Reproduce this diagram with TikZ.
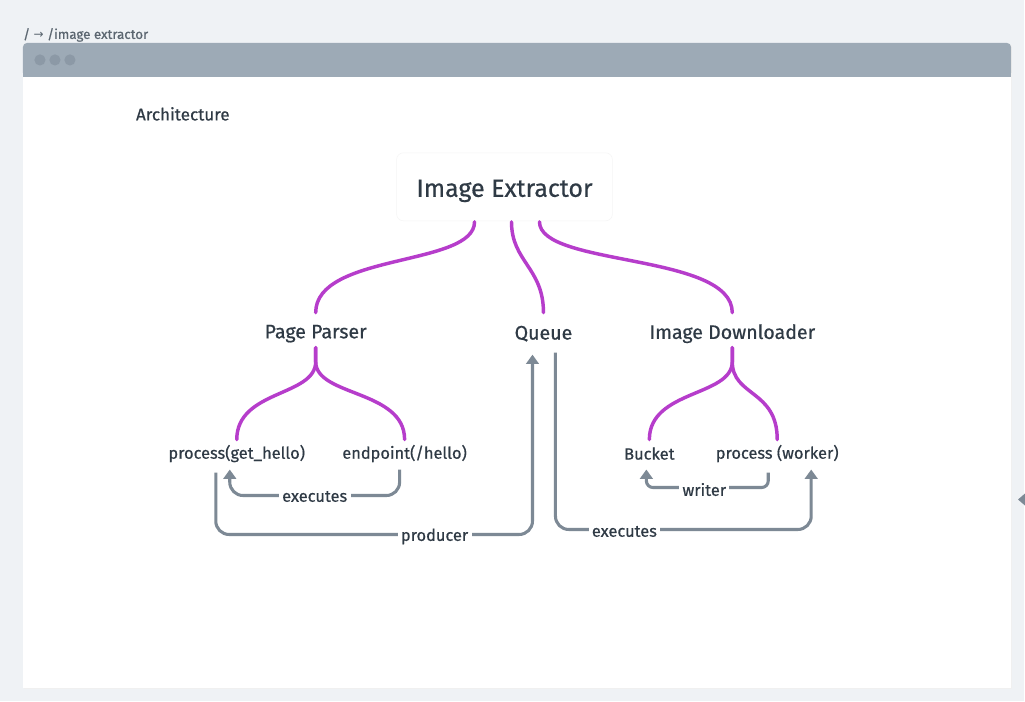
\documentclass[tikz,border=0pt]{standalone}
\usepackage{fontspec}
\setmainfont{Fira Sans}[FakeBold=0.6]
\newfontfamily\symfont{DejaVu Sans}
\usepackage{xcolor}
\usepackage{tikz}
\usetikzlibrary{arrows.meta,calc}

\definecolor{pagebg}{HTML}{EFF2F5}
\definecolor{barcol}{HTML}{9DAAB6}
\definecolor{dotcol}{HTML}{8C99A6}
\definecolor{mindpurple}{HTML}{B63DCB}
\definecolor{flowgray}{HTML}{7D8995}
\definecolor{darktext}{HTML}{2F3A45}
\definecolor{crumbtext}{HTML}{5B6670}

\begin{document}
\begin{tikzpicture}[x=0.75pt,y=-0.75pt,
    branch/.style={line width=2.6pt,color=mindpurple,line cap=round},
    flow/.style={line width=2.3pt,color=flowgray,rounded corners=10pt},
    flowarrow/.style={flow,-{Triangle[width=9.5pt,length=7pt]}},
    rootbox/.style={draw=black!4,fill=white,rounded corners=5pt,minimum width=162pt,minimum height=51pt,
        text height=19pt,text depth=4pt,font=\fontsize{18.7}{23}\selectfont,text=darktext},
    lvltwo/.style={inner sep=0pt,font=\fontsize{14.7}{18}\selectfont,text=darktext},
    lvlthree/.style={inner sep=0pt,font=\fontsize{12.3}{15}\selectfont,text=darktext},
    flowtag/.style={fill=white,inner xsep=2.5pt,inner ysep=1pt,font=\fontsize{12.3}{15}\selectfont,text=darktext}]

    % page and window
    \fill[pagebg] (0,0) rectangle (1025,702);
    \fill[black!6] (24,45) rectangle (1013,690);
    \fill[white] (23,77) rectangle (1012,689);
    \fill[barcol,rounded corners=3pt] (23,43) rectangle (1012,77);
    \fill[barcol] (23,60) rectangle (1012,77);
    \foreach \dx in {0,15,30}
        \fill[dotcol] (40+\dx,60) circle (4.2pt);
    \fill[flowgray] (1019,500) -- (1026,494) -- (1026,506) -- cycle;

    % texts
    \node[anchor=west,inner sep=0pt,font=\fontsize{10}{12}\selectfont,text=crumbtext] (crumb) at (23,35)
        {/ {\symfont\fontsize{9}{12}\selectfont →} /image extractor};
    \node[lvlthree,font=\fontsize{12.8}{15}\selectfont] (arch) at (183,114) {Architecture};

    % mind map nodes
    \node[rootbox] (ie) at (505,187) {Image Extractor};
    \node[lvltwo] (pp) at (316,334) {Page Parser};
    \node[lvltwo] (qu) at (544,334) {Queue};
    \node[lvltwo] (id) at (733,334) {Image Downloader};
    \node[lvlthree] (pg) at (237,454) {process(get\_hello)};
    \node[lvlthree] (ep) at (405,454) {endpoint(/hello)};
    \node[lvlthree] (bk) at (650,454) {Bucket};
    \node[lvlthree] (pw) at (778,454) {process (worker)};

    % branches
    \draw[branch] ($(ie)+(-30,35)$) .. controls +(0,45) and +(0,-60) .. ($(pp)+(0,-21)$);
    \draw[branch] ($(ie)+(7,35)$) .. controls +(0,40) and +(0,-45) .. ($(qu)+(0,-21)$);
    \draw[branch] ($(ie)+(35,35)$) .. controls +(0,45) and +(0,-60) .. ($(id)+(0,-21)$);

    \draw[branch] ($(pp)+(0,14)$) -- ++(0,14) .. controls +(0,35) and +(0,-50) .. ($(pg)+(0,-14)$);
    \draw[branch] ($(pp)+(0,14)$) -- ++(0,14) .. controls +(0,35) and +(0,-50) .. ($(ep)+(0,-14)$);
    \draw[branch] ($(id)+(0,14)$) -- ++(0,14) .. controls +(0,35) and +(0,-50) .. ($(bk)+(0,-14)$);
    \draw[branch] ($(id)+(0,14)$) -- ++(0,14) .. controls +(0,35) and +(0,-50) .. ($(pw)+(0,-14)$);

    % flows
    \draw[flowarrow] ($(ep)+(-5,16)$) |- ($(pg)+(-7,42)$) -- ($(pg)+(-7,16)$);
    \draw[flowarrow] ($(pg)+(-21,19)$) |- ($(qu)+(-11,201)$) -- ($(qu)+(-11,21)$);
    \draw[flowarrow] ($(qu)+(12,19)$) |- ($(pw)+(34,76)$) -- ($(pw)+(34,16)$);
    \draw[flowarrow,rounded corners=5pt] ($(pw)+(-9,19)$) |- ($(bk)+(-3,34)$) -- ($(bk)+(-3,16)$);

    \node[flowtag] (lexec) at (315,497) {executes};
    \node[flowtag] (lprod) at (435,537) {producer};
    \node[flowtag] (lwrite) at (705,490) {writer};
    \node[flowtag] (rexec) at (625,532) {executes};
\end{tikzpicture}
\end{document}
